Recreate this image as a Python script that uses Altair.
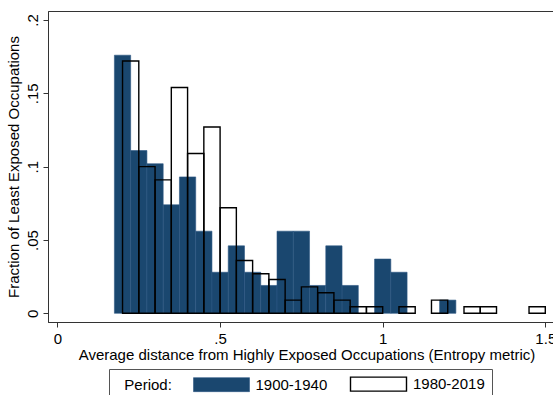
import altair as alt
import pandas as pd

FONT = "Liberation Sans"
NAVY = "#1a476f"
BIN_WIDTH = 0.05

# 1900-1940: left edges of the non-empty bins and their fractions
early_edges = [0.175, 0.225, 0.275, 0.325, 0.375, 0.425, 0.475, 0.525, 0.575,
               0.625, 0.675, 0.725, 0.775, 0.825, 0.875, 0.975, 1.025, 1.175]
early_frac = [0.176, 0.111, 0.102, 0.074, 0.093, 0.056, 0.028, 0.046, 0.028,
              0.019, 0.056, 0.056, 0.019, 0.046, 0.019, 0.037, 0.028, 0.009]

# 1980-2019: left edges of the non-empty bins and their fractions
late_edges = [0.20, 0.25, 0.30, 0.35, 0.40, 0.45, 0.50, 0.55, 0.60, 0.65,
              0.70, 0.75, 0.80, 0.85, 0.90, 0.95, 1.05, 1.15, 1.25, 1.30, 1.45]
late_frac = [0.172, 0.100, 0.091, 0.154, 0.109, 0.127, 0.072, 0.036, 0.027, 0.023,
             0.009, 0.018, 0.014, 0.009, 0.0045, 0.0045, 0.0045, 0.009, 0.0045, 0.0045, 0.0045]

periods = ["1900-1940", "1980-2019"]
x_ticks = [0, 0.5, 1, 1.5]
y_ticks = [0, 0.05, 0.1, 0.15, 0.2]

rows = []
for edge, frac in zip(early_edges, early_frac):
    rows.append({"lo": edge, "hi": edge + BIN_WIDTH, "frac": frac, "period": periods[0]})
for edge, frac in zip(late_edges, late_frac):
    rows.append({"lo": edge, "hi": edge + BIN_WIDTH, "frac": frac, "period": periods[1]})
df = pd.DataFrame(rows)

# Stata-style tick numbers: ".5", ".05" rather than "0.5", "0.05"
stata_num = ("datum.value > 0 && datum.value < 1 ? "
             "substring(toString(datum.value), 1) : toString(datum.value)")

# zero-width space keeps the indent from being trimmed off the legend title
legend = alt.Legend(
    orient="none", legendX=61, legendY=358, direction="horizontal",
    title="\u200b\u00a0\u00a0Period:", titleOrient="left", titleFont=FONT,
    titleFontSize=15, titleFontWeight="normal", titleColor="black",
    titlePadding=21, titleBaseline="middle",
    labelFont=FONT, labelFontSize=15, labelColor="black", labelOffset=47.5,
    symbolType="M-1,-1H7V1H-1Z", symbolSize=196, columnPadding=19.5,
    padding=7, strokeColor="#555555", fillColor="white",
)

chart = alt.Chart(df).mark_rect().encode(
    x=alt.X("lo:Q", scale=alt.Scale(domain=[-0.0292, 1.5606], nice=False, zero=False),
            axis=alt.Axis(values=x_ticks, labelExpr=stata_num,
                          title="Average distance from Highly Exposed Occupations (Entropy metric)")),
    x2="hi:Q",
    y=alt.Y("frac:Q", scale=alt.Scale(domain=[-0.00593, 0.20614], nice=False, zero=False),
            axis=alt.Axis(values=y_ticks, labelExpr=stata_num, labelAngle=270,
                          title="Fraction of Least Exposed Occupations")),
    y2=alt.datum(0),
    fill=alt.Fill("period:N", scale=alt.Scale(domain=periods, range=[NAVY, "transparent"]),
                  legend=legend),
    stroke=alt.Stroke("period:N", scale=alt.Scale(domain=periods, range=["#2d5883", "black"]),
                      legend=legend),
    strokeWidth=alt.StrokeWidth("period:O", scale=alt.Scale(domain=periods, range=[0.6, 1.4]),
                                legend=legend),
).properties(
    width=517, height=311,
    autosize=alt.AutoSizeParams(type="none"),
    padding={"left": 48, "top": 11, "right": -12, "bottom": 73},
).configure_view(
    stroke="#333333", strokeWidth=1,
).configure_axis(
    grid=False, domainColor="#333333", tickColor="#333333", tickSize=5,
    labelFont=FONT, labelFontSize=15, labelColor="black",
    titleFont=FONT, titleFontSize=15, titleFontWeight="normal", titleColor="black",
    labelFlush=False, labelOverlap=False,
).configure_axisX(
    labelPadding=4, titlePadding=1,
).configure_axisY(
    labelPadding=3, titlePadding=4,
)

chart.save("out.html", embed_options={"renderer": "svg", "actions": False})
